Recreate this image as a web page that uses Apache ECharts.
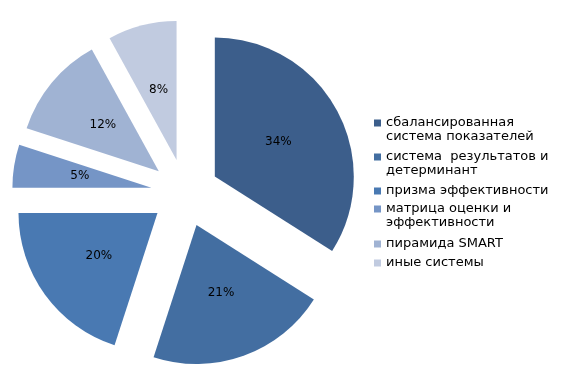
<!DOCTYPE html>
<html><head><meta charset="utf-8">
<script src="https://cdn.jsdelivr.net/npm/echarts@6/dist/echarts.min.js"></script>
<style>html,body{margin:0;padding:0;background:#fff}#c{width:562px;height:385px}</style>
</head><body><div id="c"></div>
<script>
var categories = ['сбалансированная\nсистема показателей', 'система  результатов и\nдетерминант', 'призма эффективности', 'матрица оценки и\nэффективности', 'пирамида SMART', 'иные системы'];
var values = [34, 21, 20, 5, 12, 8];
var colors = ['#3c5e8b', '#436ea1', '#4979b2', '#7595c6', '#a0b3d3', '#c1cbe0'];
var legendTops = [123, 157, 191, 209, 244, 263];

var chart = echarts.init(document.getElementById('c'), null, {renderer: 'canvas'});
var font = 'DejaVu Sans';
var LH = 14;
var legends = categories.map(function (name, i) {
  var twoLine = name.indexOf('\n') >= 0;
  return {
    data: [name],
    orient: 'vertical',
    left: 374,
    top: legendTops[i] - (twoLine ? 1.5 * LH : 0.5 * LH),
    padding: 0,
    itemWidth: 7,
    itemHeight: 7,
    icon: 'rect',
    selectedMode: false,
    formatter: function (n) { return n.indexOf('\n') >= 0 ? '\n' + n : n; },
    textStyle: {
      fontFamily: font, fontSize: 13, color: '#000', lineHeight: LH
    }
  };
});
chart.setOption({
  animation: false,
  color: colors,
  legend: legends,
  series: [{
    type: 'pie',
    center: [185, 193],
    radius: 139,
    startAngle: 90,
    clockwise: true,
    selectedMode: 'multiple',
    selectedOffset: 34,
    silent: true,
    emphasis: {disabled: true},
    label: {
      show: true, position: 'inside', formatter: '{c}%',
      fontFamily: font, fontSize: 12, color: '#000'
    },
    labelLine: {show: false},
    data: categories.map(function (n, i) {
      return {name: n, value: values[i], selected: true};
    })
  }]
});
</script></body></html>
